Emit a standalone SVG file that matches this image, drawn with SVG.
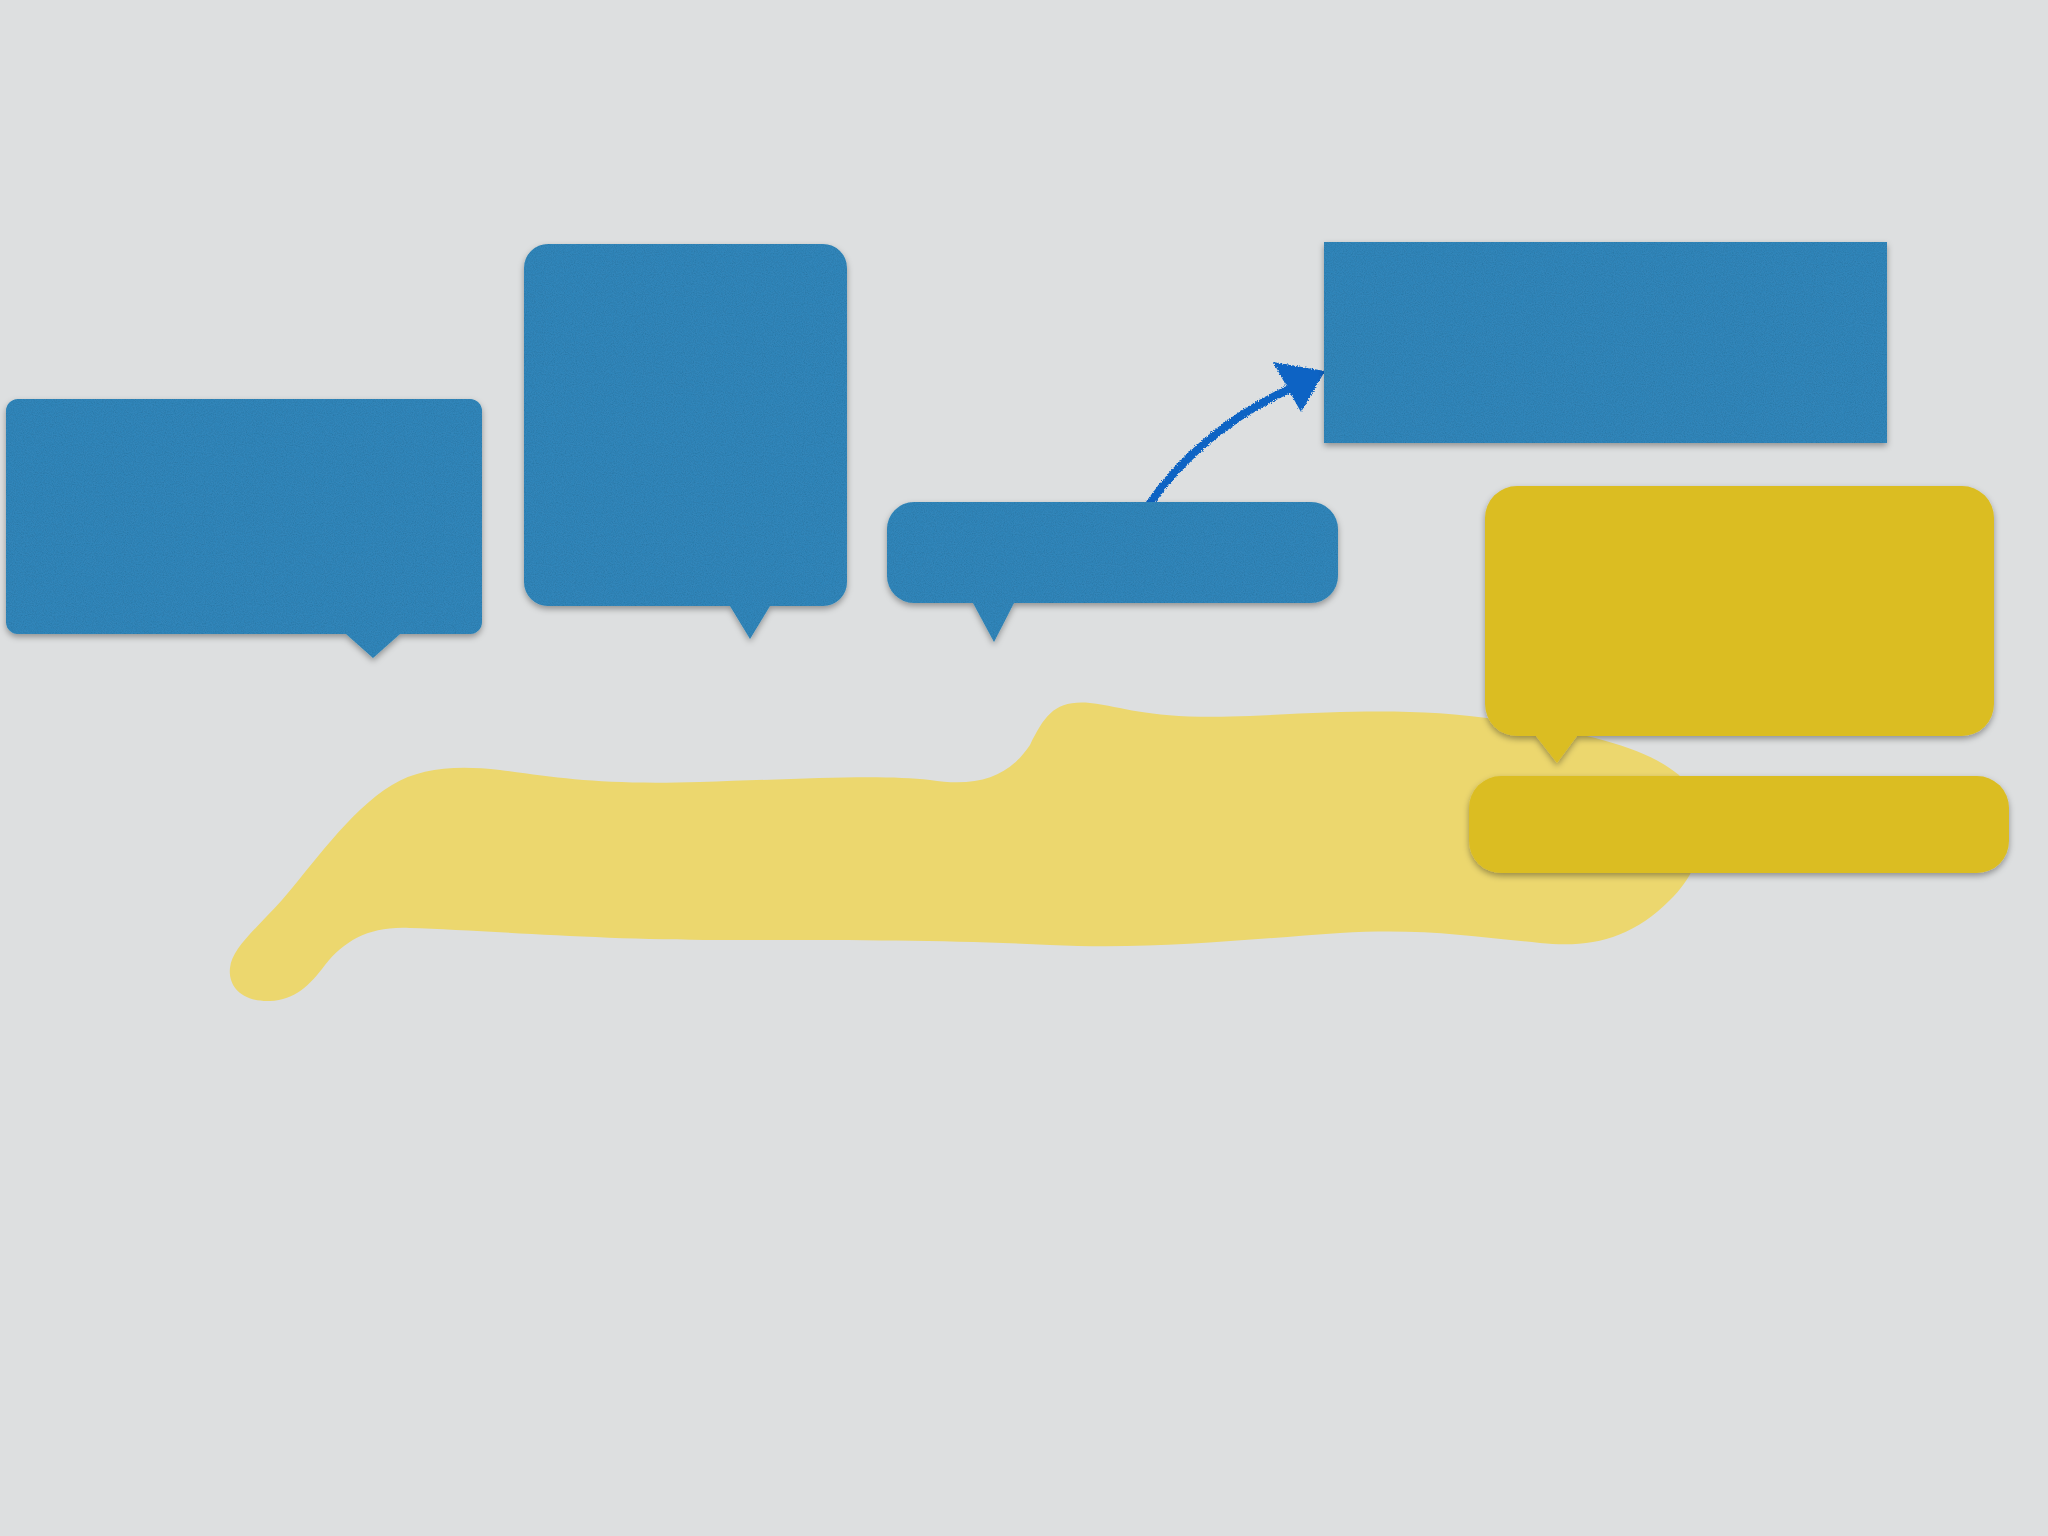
<svg xmlns="http://www.w3.org/2000/svg" width="2048" height="1536" viewBox="0 0 2048 1536">
<style>
.blue{fill:#3185b9;filter:url(#paper)}
.yellow{fill:#dbbd24;filter:url(#shadow)}
.blob{fill:#ecd76e}
.crayon{stroke:#0a63c4;fill:none;stroke-width:8;stroke-linecap:round;filter:url(#rough)}
</style>
<defs>
<filter id="shadow" x="-5%" y="-5%" width="110%" height="120%">
<feDropShadow dx="0" dy="3" stdDeviation="3" flood-color="#000" flood-opacity="0.35"/>
</filter>
<filter id="paper" x="-5%" y="-5%" width="110%" height="120%">
<feTurbulence type="fractalNoise" baseFrequency="0.9" numOctaves="2" seed="3" result="n"/>
<feColorMatrix in="n" type="matrix" values="0 0 0 0 0  0 0 0 0 0  0 0 0 0 0  0 0 0 -0.4 0.24" result="na"/>
<feComposite in="na" in2="SourceGraphic" operator="in" result="tex"/>
<feDropShadow in="SourceGraphic" dx="0" dy="3" stdDeviation="3" flood-color="#000" flood-opacity="0.35" result="sh"/>
<feMerge><feMergeNode in="sh"/><feMergeNode in="tex"/></feMerge>
</filter>
<filter id="rough" x="-10%" y="-10%" width="120%" height="120%">
<feTurbulence type="fractalNoise" baseFrequency="0.7" numOctaves="2" seed="5" result="t"/>
<feDisplacementMap in="SourceGraphic" in2="t" scale="4" xChannelSelector="R" yChannelSelector="G"/>
</filter>
</defs>
<rect width="2048" height="1536" fill="#dddfe0"/>
<g id="blob">
<path class="blob" d="M 270 1001 C 240 1002, 228 985, 230 968 C 232 948, 255 930, 282 900 C 310 868, 350 810, 392 785 C 420 768, 455 765, 500 770 C 560 778, 600 785, 700 782 C 800 779, 880 774, 930 780 C 980 788, 1010 775, 1030 745 C 1045 715, 1055 700, 1090 703 C 1130 708, 1150 720, 1250 716 C 1350 711, 1420 708, 1500 720 C 1600 735, 1665 752, 1693 790 C 1713 822, 1702 870, 1670 900 C 1630 940, 1590 948, 1540 943 C 1470 936, 1420 928, 1340 933 C 1240 940, 1150 950, 1050 945 C 950 940, 850 940, 718 940 C 600 940, 480 930, 410 928 C 370 926, 345 940, 325 965 C 310 985, 295 1000, 270 1001 Z"/>
</g>
<g id="connectors">
<path class="crayon" d="M 1150 503 C 1180 460, 1230 415, 1292 388"/>
<polygon points="1273,362 1325,371 1301,412" fill="#0a63c4" filter="url(#rough)"/>
</g>
<g id="callout1">
<path class="blue" d="M 18 399 H 470 A 12 12 0 0 1 482 411 V 622 A 12 12 0 0 1 470 634 H 400 L 373 658 L 346 634 H 18 A 12 12 0 0 1 6 622 V 411 A 12 12 0 0 1 18 399 Z"/>
</g>
<g id="callout2">
<path class="blue" d="M 548 244 H 823 A 24 24 0 0 1 847 268 V 582 A 24 24 0 0 1 823 606 H 770 L 750 639 L 730 606 H 548 A 24 24 0 0 1 524 582 V 268 A 24 24 0 0 1 548 244 Z"/>
</g>
<g id="callout3">
<path class="blue" d="M 914 502 H 1311 A 27 27 0 0 1 1338 529 V 576 A 27 27 0 0 1 1311 603 H 1014 L 994 642 L 973 603 H 914 A 27 27 0 0 1 887 576 V 529 A 27 27 0 0 1 914 502 Z"/>
</g>
<g id="rect-box">
<rect class="blue" x="1324" y="242" width="563" height="201"/>
</g>
<g id="yellow-callout">
<path class="yellow" d="M 1517 486 H 1962 A 32 32 0 0 1 1994 518 V 704 A 32 32 0 0 1 1962 736 H 1577 L 1557 763 L 1536 736 H 1517 A 32 32 0 0 1 1485 704 V 518 A 32 32 0 0 1 1517 486 Z"/>
</g>
<g id="yellow-bar">
<rect class="yellow" x="1469" y="776" width="540" height="97" rx="32"/>
</g>
</svg>
